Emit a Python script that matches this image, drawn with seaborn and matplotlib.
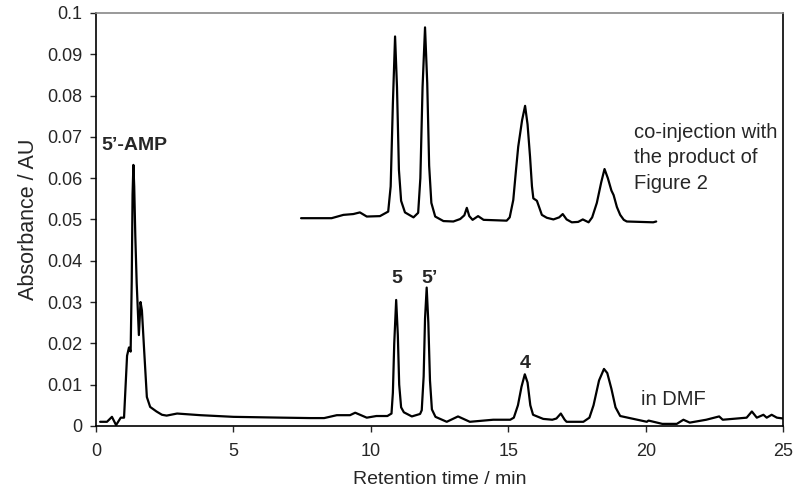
import matplotlib
matplotlib.use('Agg')
import matplotlib.pyplot as plt
import seaborn as sns
import pandas as pd
from matplotlib.ticker import FuncFormatter

# ── DATA ─────────────────────────────────────────────────────────────────────
dmf_time = [0.15, 0.4, 0.58, 0.73, 0.9, 1.02, 1.13, 1.2, 1.26, 1.3, 1.33, 1.36,
            1.39, 1.43, 1.48, 1.56, 1.62, 1.67, 1.75, 1.85, 1.97, 2.2, 2.4, 2.57,
            2.95, 3.8, 5.0, 6.8, 7.8, 8.3, 8.76, 9.24, 9.43, 9.85, 10.2, 10.6,
            10.75, 10.8, 10.85, 10.92, 10.98, 11.03, 11.1, 11.2, 11.49, 11.79,
            11.85, 11.92, 11.97, 12.03, 12.09, 12.15, 12.22, 12.35, 12.76, 13.17,
            13.6, 14.45, 15.07, 15.2, 15.35, 15.48, 15.6, 15.7, 15.8, 15.9, 16.27,
            16.6, 16.75, 16.91, 17.05, 17.12, 17.73, 17.95, 18.1, 18.3, 18.48,
            18.6, 18.75, 18.9, 19.07, 20.04, 20.1, 20.6, 21.13, 21.37, 21.6, 22.2,
            22.67, 22.8, 23.67, 23.86, 24.04, 24.28, 24.4, 24.58, 24.77, 25.0]
dmf_abs = [0.001, 0.001, 0.0022, 0.0002, 0.002, 0.002, 0.017, 0.019, 0.018, 0.035,
           0.056, 0.0632, 0.058, 0.046, 0.0346, 0.022, 0.030, 0.028, 0.0185, 0.007,
           0.0046, 0.0035, 0.0027, 0.0025, 0.003, 0.0026, 0.0022, 0.002, 0.0019,
           0.0019, 0.0026, 0.0026, 0.0032, 0.002, 0.0024, 0.0024, 0.003, 0.008,
           0.02, 0.0305, 0.022, 0.01, 0.0045, 0.0033, 0.0023, 0.0029, 0.0038,
           0.012, 0.026, 0.0335, 0.025, 0.011, 0.004, 0.0022, 0.001, 0.0023, 0.001,
           0.0015, 0.0015, 0.002, 0.005, 0.0095, 0.0125, 0.0105, 0.005, 0.0027,
           0.0017, 0.0015, 0.0018, 0.003, 0.0015, 0.001, 0.001, 0.002, 0.005,
           0.011, 0.0138, 0.0128, 0.009, 0.0045, 0.0024, 0.001, 0.0013, 0.0005,
           0.0005, 0.0015, 0.0008, 0.0015, 0.0023, 0.0015, 0.002, 0.0035, 0.002,
           0.0027, 0.002, 0.0027, 0.002, 0.0018]

coinj_time = [7.46, 8.57, 9.0, 9.36, 9.6, 9.85, 10.33, 10.63, 10.72, 10.8, 10.88,
              10.95, 11.02, 11.1, 11.24, 11.55, 11.72, 11.8, 11.88, 11.97, 12.05,
              12.12, 12.2, 12.34, 12.64, 13.0, 13.25, 13.4, 13.49, 13.58, 13.7,
              13.9, 14.1, 14.94, 15.05, 15.18, 15.28, 15.36, 15.5, 15.61, 15.7,
              15.79, 15.86, 15.91, 16.0, 16.04, 16.12, 16.22, 16.4, 16.64, 16.85,
              16.98, 17.12, 17.31, 17.54, 17.71, 17.92, 18.05, 18.22, 18.38, 18.5,
              18.62, 18.75, 18.83, 18.95, 19.07, 19.2, 19.31, 20.27, 20.38]
coinj_abs = [0.0503, 0.0503, 0.0511, 0.0513, 0.0517, 0.0507, 0.0508, 0.0519, 0.058,
             0.078, 0.0943, 0.082, 0.062, 0.0545, 0.0517, 0.0505, 0.0516, 0.06,
             0.082, 0.0965, 0.083, 0.063, 0.054, 0.0507, 0.0496, 0.0495, 0.0501,
             0.051, 0.0528, 0.0508, 0.0499, 0.0508, 0.0499, 0.0497, 0.0505, 0.0547,
             0.062, 0.0676, 0.074, 0.0775, 0.073, 0.0652, 0.058, 0.0551, 0.0547,
             0.0545, 0.053, 0.0511, 0.0504, 0.0500, 0.0505, 0.0513, 0.0500, 0.0493,
             0.0494, 0.0500, 0.0493, 0.0505, 0.054, 0.059, 0.0622, 0.060, 0.057,
             0.0559, 0.053, 0.0511, 0.0499, 0.0495, 0.0493, 0.0495]

x_ticks = [0, 5, 10, 15, 20, 25]
y_ticks = [0, 0.01, 0.02, 0.03, 0.04, 0.05, 0.06, 0.07, 0.08, 0.09, 0.1]

# ── PLOT ─────────────────────────────────────────────────────────────────────
sns.set_style("ticks")
plt.rcParams['font.family'] = ['Liberation Sans', 'DejaVu Sans']

fig = plt.figure(figsize=(8, 4.97), dpi=100)
ax = fig.add_axes([0.12, 0.143, 0.859, 0.831])

df_dmf = pd.DataFrame({"t": dmf_time, "a": dmf_abs})
df_co = pd.DataFrame({"t": coinj_time, "a": coinj_abs})
sns.lineplot(data=df_dmf, x="t", y="a", ax=ax, color="black", lw=1.6)
sns.lineplot(data=df_co, x="t", y="a", ax=ax, color="black", lw=1.6)

ax.set_xlim(0, 25)
ax.set_ylim(0, 0.1)
ax.set_xticks(x_ticks)
ax.set_yticks(y_ticks)
ax.yaxis.set_major_formatter(FuncFormatter(lambda v, p: f"{v:g}"))
ax.tick_params(direction="out", length=4, labelsize=13, width=1)
ax.tick_params(axis="x", pad=8)
ax.tick_params(axis="y", pad=6)
ax.set_xlabel("Retention time / min", fontsize=14, labelpad=8)
ax.set_ylabel("Absorbance / AU", fontsize=15.5, labelpad=6)

for s in ["left", "bottom", "right"]:
    ax.spines[s].set_color("black")
    ax.spines[s].set_linewidth(1.2)
ax.spines["top"].set_color("#888888")
ax.spines["top"].set_linewidth(1.2)

# labels
ax.text(0.2, 0.068, "5’-AMP", fontsize=14, fontweight="bold", va="center", ha="left")
ax.text(10.95, 0.0358, "5", fontsize=14, fontweight="bold", va="center", ha="center")
ax.text(12.15, 0.0358, "5’", fontsize=14, fontweight="bold", va="center", ha="center")
ax.text(15.6, 0.015, "4", fontsize=14, fontweight="bold", va="center", ha="center")
ax.text(19.83, 0.0063, "in DMF", fontsize=14.5, va="center", ha="left")
ax.text(19.58, 0.0733, "co-injection with\nthe product of\nFigure 2", fontsize=14.5,
        va="top", ha="left", linespacing=1.42)

plt.savefig("out.png", dpi=100)
plt.close()
